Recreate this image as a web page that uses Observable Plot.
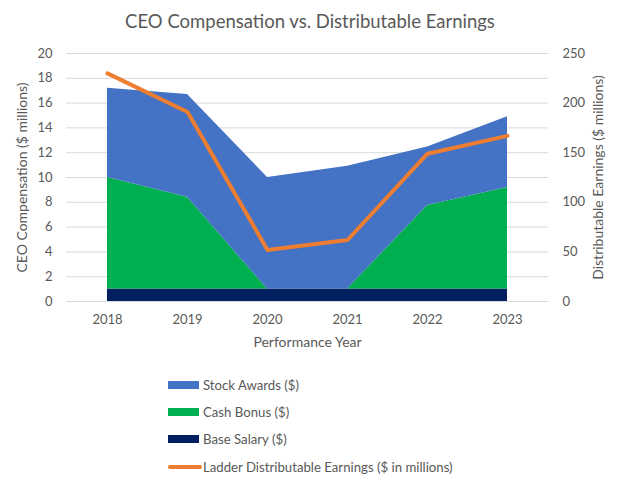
<!DOCTYPE html>
<html><head><meta charset="utf-8">
<script src="https://cdn.jsdelivr.net/npm/d3@7"></script>
<script src="https://cdn.jsdelivr.net/npm/@observablehq/plot@0.6"></script>
<style>
body{margin:0;background:#fff;font-family:Lato,"Liberation Sans",sans-serif;color:#595959;width:620px;height:480px;overflow:hidden}
#title{height:40px;line-height:42px;text-align:center;font-size:18.5px}
#chart svg{display:block}
#legend{position:relative;margin-left:168px;padding-top:16px}
.item{display:flex;align-items:center;height:27.3px;font-size:13.2px}
.sw{width:31px;height:8px;margin-right:4px}
.ln{width:34px;height:4px;border-radius:2px;margin-right:1px}
</style></head><body>
<div id="title">CEO Compensation vs. Distributable Earnings</div>
<div id="chart"></div>
<div id="legend"></div>
<script>
const years = ["2018","2019","2020","2021","2022","2023"];
const baseSalary = [1,1,1,1,1,1];
const cashBonus = [9.0,7.4,0,0,6.75,8.2];
const stockAwards = [7.2,8.3,9.0,9.9,4.7,5.7];
const earnings = [230,191,52,62,149,167];
const leftTicks = [0,2,4,6,8,10,12,14,16,18,20];
const rightTicks = [0,50,100,150,200,250];
const seriesNames = ["Base Salary ($)","Cash Bonus ($)","Stock Awards ($)"];
const colors = ["#002060","#00B050","#4472C4"];
const lineName = "Ladder Distributable Earnings ($ in millions)";
const lineColor = "#ED7D31";

const ratio = 20/250;
const seriesVals = [baseSalary, cashBonus, stockAwards];
const areaRows = [];
seriesNames.forEach((s,i)=>years.forEach((y,j)=>areaRows.push({year:y, series:s, value:seriesVals[i][j]})));
const lineRows = years.map((y,j)=>({year:y, earnings:earnings[j]}));

const fontSize = 13;
const chart = Plot.plot({
  width:620, height:315,
  marginTop:13, marginBottom:54, marginLeft:66, marginRight:72,
  style:{fontFamily:"Lato, 'Liberation Sans', sans-serif", fontSize:"13px", color:"#595959", background:"#fff", overflow:"visible"},
  x:{type:"point", domain:years, padding:0.5, label:null},
  y:{domain:[0,20], label:null},
  color:{domain:seriesNames, range:colors},
  marks:[
    Plot.gridY(leftTicks, {stroke:"#d9d9d9", strokeOpacity:1, strokeWidth:1}),
    Plot.areaY(areaRows, {x:"year", y:"value", fill:"series", order:seriesNames}),
    Plot.lineY(lineRows, {x:"year", y:d=>d.earnings*ratio, stroke:lineColor, strokeWidth:4, strokeLinecap:"round", strokeLinejoin:"round"}),
    Plot.axisX({tickSize:0, tickPadding:13, fontSize, label:null}),
    Plot.axisY(leftTicks, {anchor:"left", tickSize:0, tickPadding:14, fontSize, label:null}),
    Plot.axisY(rightTicks.map(v=>v*ratio), {anchor:"right", tickSize:0, tickPadding:14, fontSize, label:null, tickFormat:d=>String(Math.round(d/ratio))}),
    Plot.text(["CEO Compensation ($ millions)"], {frameAnchor:"left", dx:-44, rotate:-90, textAnchor:"middle", fontSize:14, fill:"#595959"}),
    Plot.text(["Distributable Earnings ($ millions)"], {frameAnchor:"right", dx:50, rotate:-90, textAnchor:"middle", fontSize:14, fill:"#595959"}),
    Plot.text(["Performance Year"], {frameAnchor:"bottom", dy:45, fontSize:14, fill:"#595959"})
  ]
});
document.getElementById("chart").appendChild(chart);

const legend = document.getElementById("legend");
const legendItems = [
  {name:seriesNames[2], color:colors[2], line:false},
  {name:seriesNames[1], color:colors[1], line:false},
  {name:seriesNames[0], color:colors[0], line:false},
  {name:lineName, color:lineColor, line:true}
];
legendItems.forEach(it=>{
  const d = document.createElement("div"); d.className="item";
  const s = document.createElement("span"); s.className = it.line ? "ln" : "sw"; s.style.background = it.color;
  const t = document.createElement("span"); t.textContent = it.name;
  d.appendChild(s); d.appendChild(t); legend.appendChild(d);
});
</script>
</body></html>
